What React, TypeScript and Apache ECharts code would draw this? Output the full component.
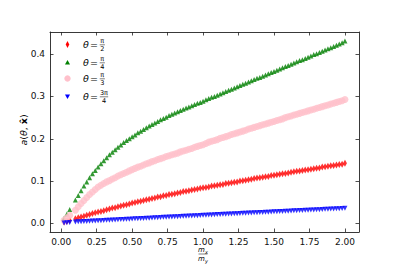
import React, { useEffect, useRef } from "react";
import * as echarts from "echarts";

const xs = [0.02, 0.04, 0.06,
  0.10, 0.12, 0.14, 0.16, 0.18, 0.20, 0.22, 0.24, 0.26, 0.28, 0.30, 0.32, 0.34, 0.36, 0.38, 0.40,
  0.42, 0.44, 0.46, 0.48, 0.50, 0.52, 0.54, 0.56, 0.58, 0.60, 0.62, 0.64, 0.66, 0.68, 0.70, 0.72,
  0.74, 0.76, 0.78, 0.80, 0.82, 0.84, 0.86, 0.88, 0.90, 0.92, 0.94, 0.96, 0.98, 1.00, 1.02, 1.04,
  1.06, 1.08, 1.10, 1.12, 1.14, 1.16, 1.18, 1.20, 1.22, 1.24, 1.26, 1.28, 1.30, 1.32, 1.34, 1.36,
  1.38, 1.40, 1.42, 1.44, 1.46, 1.48, 1.50, 1.52, 1.54, 1.56, 1.58, 1.60, 1.62, 1.64, 1.66, 1.68,
  1.70, 1.72, 1.74, 1.76, 1.78, 1.80, 1.82, 1.84, 1.86, 1.88, 1.90, 1.92, 1.94, 1.96, 1.98, 2.00];

// θ = π/2 (red)
const redVals = [0.003, 0.005, 0.007,
  0.011, 0.013, 0.015, 0.017, 0.019, 0.021, 0.023, 0.025, 0.027, 0.028, 0.030, 0.032, 0.034, 0.036, 0.037, 0.039,
  0.041, 0.043, 0.044, 0.046, 0.048, 0.049, 0.051, 0.052, 0.054, 0.056, 0.057, 0.059, 0.060, 0.062, 0.063, 0.065,
  0.066, 0.068, 0.069, 0.070, 0.072, 0.073, 0.075, 0.076, 0.077, 0.079, 0.080, 0.081, 0.083, 0.084, 0.085, 0.086,
  0.088, 0.089, 0.090, 0.091, 0.092, 0.094, 0.095, 0.096, 0.097, 0.098, 0.100, 0.101, 0.102, 0.103, 0.104, 0.106,
  0.107, 0.108, 0.109, 0.110, 0.111, 0.113, 0.114, 0.115, 0.116, 0.117, 0.118, 0.119, 0.121, 0.122, 0.123, 0.124,
  0.125, 0.126, 0.127, 0.128, 0.129, 0.130, 0.131, 0.133, 0.134, 0.135, 0.136, 0.137, 0.138, 0.139, 0.140, 0.142];

// θ = π/4 (green)
const greenVals = [0.012, 0.022, 0.033,
  0.055, 0.066, 0.077, 0.088, 0.098, 0.108, 0.117, 0.125, 0.133, 0.141, 0.148, 0.155, 0.162, 0.168, 0.174, 0.180,
  0.185, 0.191, 0.196, 0.200, 0.205, 0.209, 0.214, 0.218, 0.222, 0.226, 0.230, 0.234, 0.237, 0.241, 0.245, 0.248,
  0.251, 0.255, 0.258, 0.261, 0.264, 0.267, 0.270, 0.273, 0.275, 0.278, 0.281, 0.284, 0.286, 0.289, 0.292, 0.295,
  0.298, 0.300, 0.303, 0.306, 0.309, 0.312, 0.315, 0.317, 0.320, 0.323, 0.326, 0.329, 0.331, 0.334, 0.337, 0.340,
  0.343, 0.345, 0.348, 0.351, 0.354, 0.357, 0.359, 0.362, 0.365, 0.368, 0.371, 0.373, 0.376, 0.379, 0.382, 0.385,
  0.387, 0.390, 0.393, 0.396, 0.399, 0.401, 0.404, 0.407, 0.410, 0.413, 0.415, 0.418, 0.421, 0.424, 0.427, 0.431];

// θ = π/3 (pink)
const pinkVals = [0.007, 0.013, 0.019,
  0.031, 0.039, 0.047, 0.054, 0.061, 0.068, 0.074, 0.080, 0.086, 0.090, 0.094, 0.098, 0.101, 0.105, 0.108, 0.112,
  0.115, 0.118, 0.121, 0.124, 0.127, 0.130, 0.133, 0.135, 0.138, 0.141, 0.143, 0.146, 0.148, 0.151, 0.153, 0.155,
  0.158, 0.160, 0.162, 0.164, 0.166, 0.169, 0.171, 0.173, 0.175, 0.177, 0.180, 0.182, 0.184, 0.186, 0.189, 0.192,
  0.194, 0.196, 0.198, 0.201, 0.203, 0.205, 0.207, 0.210, 0.212, 0.214, 0.216, 0.218, 0.220, 0.223, 0.225, 0.227,
  0.229, 0.231, 0.233, 0.235, 0.237, 0.239, 0.241, 0.243, 0.245, 0.247, 0.250, 0.252, 0.254, 0.256, 0.258, 0.260,
  0.262, 0.264, 0.266, 0.268, 0.270, 0.272, 0.274, 0.276, 0.278, 0.280, 0.282, 0.284, 0.286, 0.288, 0.290, 0.293];

// θ = 3π/4 (blue)
const blueVals = [0.0010, 0.0015, 0.0020,
  0.0032, 0.0036, 0.0039, 0.0043, 0.0046, 0.0050, 0.0053, 0.0057, 0.0060, 0.0064, 0.0067, 0.0071, 0.0074, 0.0078, 0.0081, 0.0085,
  0.0088, 0.0092, 0.0095, 0.0099, 0.0102, 0.0106, 0.0109, 0.0113, 0.0116, 0.0120, 0.0123, 0.0127, 0.0130, 0.0134, 0.0137, 0.0141,
  0.0144, 0.0148, 0.0151, 0.0155, 0.0158, 0.0162, 0.0165, 0.0169, 0.0172, 0.0175, 0.0179, 0.0182, 0.0186, 0.0189, 0.0192, 0.0196,
  0.0199, 0.0202, 0.0206, 0.0209, 0.0212, 0.0216, 0.0219, 0.0222, 0.0226, 0.0229, 0.0232, 0.0236, 0.0239, 0.0242, 0.0246, 0.0249,
  0.0252, 0.0255, 0.0259, 0.0262, 0.0265, 0.0269, 0.0272, 0.0275, 0.0279, 0.0282, 0.0285, 0.0288, 0.0292, 0.0295, 0.0298, 0.0302,
  0.0305, 0.0308, 0.0311, 0.0315, 0.0318, 0.0321, 0.0324, 0.0328, 0.0331, 0.0334, 0.0337, 0.0341, 0.0344, 0.0347, 0.0350, 0.0354];

const xTicks = [0, 0.25, 0.5, 0.75, 1.0, 1.25, 1.5, 1.75, 2.0];
const yTicks = [0, 0.1, 0.2, 0.3, 0.4];

const legendNums = ["π", "π", "π", "3π"];
const legendDens = ["2", "4", "3", "4"];

const FONT = '"DejaVu Sans", sans-serif';
const AX = "#222";

export default function App() {
  const ref = useRef<HTMLDivElement>(null);
  useEffect(() => {
    if (!ref.current) return;
    const chart = echarts.init(ref.current, null, { renderer: "svg" });
    const pts = (v: number[]) => xs.map((x, i) => [x, v[i]]);
    const axisLine = { show: true, onZero: false, lineStyle: { color: AX, width: 0.9 } };
    const tickStyle = { show: true, inside: true, length: 3.5, lineStyle: { color: AX, width: 0.8 } };

    const rowsY = [44.5, 62.5, 78.5, 96.5];
    const legendGraphics: any[] = [];
    rowsY.forEach((y, i) => {
      legendGraphics.push({
        type: "text", x: 83, y,
        style: { text: "θ", font: `italic 9.5px ${FONT}`, fill: "#000", textAlign: "left", textVerticalAlign: "middle", align: "left", verticalAlign: "middle" },
      });
      legendGraphics.push({
        type: "text", x: 90, y,
        style: { text: "=", font: `9.5px ${FONT}`, fill: "#000", textAlign: "left", textVerticalAlign: "middle", align: "left", verticalAlign: "middle" },
      });
      const cx = i === 3 ? 104 : 102.3;
      const hw = i === 3 ? 4.2 : 2.6;
      legendGraphics.push({
        type: "text", x: cx, y: y - 3.6,
        style: { text: legendNums[i], font: `6.5px ${FONT}`, fill: "#000", textAlign: "center", textVerticalAlign: "middle", align: "center", verticalAlign: "middle" },
      });
      legendGraphics.push({
        type: "line", shape: { x1: cx - hw, y1: y + 0.3, x2: cx + hw, y2: y + 0.3 },
        style: { stroke: "#000", lineWidth: 0.5 },
      });
      legendGraphics.push({
        type: "text", x: cx, y: y + 4.4,
        style: { text: legendDens[i], font: `6.5px ${FONT}`, fill: "#000", textAlign: "center", textVerticalAlign: "middle", align: "center", verticalAlign: "middle" },
      });
    });
    legendGraphics.push({ type: "polygon", shape: { points: [[67.5, 41], [69.3, 44.5], [67.5, 48], [65.7, 44.5]] }, style: { fill: "red" } });
    legendGraphics.push({ type: "polygon", shape: { points: [[67.5, 60], [70, 64.5], [65, 64.5]] }, style: { fill: "green" } });
    legendGraphics.push({ type: "circle", shape: { cx: 67.5, cy: 78.5, r: 3.2 }, style: { fill: "pink" } });
    legendGraphics.push({ type: "polygon", shape: { points: [[65, 94.5], [70, 94.5], [67.5, 99]] }, style: { fill: "blue" } });

    const xl = 203, yl = 254;
    const rich = { i: { font: `italic 7px ${FONT}`, fill: "#000" }, s: { font: `italic 5px ${FONT}`, fill: "#000", padding: [4, 0, 0, 0] } };
    const xLabel: any[] = [
      { type: "text", x: xl, y: yl - 4, style: { rich, text: "{i|m}{s|x}", textAlign: "center", textVerticalAlign: "middle", align: "center", verticalAlign: "middle" } },
      { type: "line", shape: { x1: xl - 4.5, y1: yl, x2: xl + 4.5, y2: yl }, style: { stroke: "#000", lineWidth: 0.5 } },
      { type: "text", x: xl, y: yl + 4.5, style: { rich, text: "{i|m}{s|y}", textAlign: "center", textVerticalAlign: "middle", align: "center", verticalAlign: "middle" } },
    ];
    const yLabel = {
      type: "text", x: 23, y: 130, rotation: Math.PI / 2,
      style: {
        text: "{i|a}{n|(}{i|θ}{n|, }{b|x̂}{n|)}",
        rich: {
          i: { font: `italic 9.5px ${FONT}`, fill: "#000" },
          n: { font: `9.5px ${FONT}`, fill: "#000" },
          b: { font: `bold 9.5px ${FONT}`, fill: "#000" },
        },
        textAlign: "center", textVerticalAlign: "middle", align: "center", verticalAlign: "middle",
      },
    };

    chart.setOption({
      animation: false,
      backgroundColor: "#fff",
      grid: { left: 50, top: 32, right: 40, bottom: 34, containLabel: false, outerBoundsMode: "none" },
      xAxis: [
        {
          type: "value", position: "bottom", min: -0.079, max: 2.099,
          axisLine, splitLine: { show: false },
          axisTick: { ...tickStyle, customValues: xTicks },
          axisLabel: { customValues: xTicks, formatter: (v: number) => v.toFixed(2), color: "#111", fontFamily: FONT, fontSize: 9, margin: 5 },
        },
        {
          type: "value", position: "top", min: -0.079, max: 2.099,
          axisLine, splitLine: { show: false },
          axisTick: { ...tickStyle, customValues: xTicks },
          axisLabel: { show: false },
        },
      ],
      yAxis: [
        {
          type: "value", position: "left", min: -0.0205, max: 0.4525,
          axisLine, splitLine: { show: false },
          axisTick: { ...tickStyle, customValues: yTicks },
          axisLabel: { customValues: yTicks, formatter: (v: number) => v.toFixed(1), color: "#111", fontFamily: FONT, fontSize: 9, margin: 5 },
        },
        {
          type: "value", position: "right", min: -0.0205, max: 0.4525,
          axisLine, splitLine: { show: false },
          axisTick: { ...tickStyle, customValues: yTicks },
          axisLabel: { show: false },
        },
      ],
      series: [
        { type: "scatter", name: "π/2", data: pts(redVals), symbol: "diamond", symbolSize: [4, 7], itemStyle: { color: "red" } },
        { type: "scatter", name: "π/4", data: pts(greenVals), symbol: "triangle", symbolSize: 5, itemStyle: { color: "green" } },
        { type: "scatter", name: "π/3", data: pts(pinkVals), symbol: "circle", symbolSize: 7, itemStyle: { color: "pink" } },
        { type: "scatter", name: "3π/4", data: pts(blueVals), symbol: "triangle", symbolRotate: 180, symbolSize: 5, itemStyle: { color: "blue" } },
      ],
      graphic: [...legendGraphics, ...xLabel, yLabel],
    });
    return () => chart.dispose();
  }, []);
  return <div ref={ref} style={{ position: "fixed", left: 0, top: 0, width: 399, height: 266 }} />;
}
